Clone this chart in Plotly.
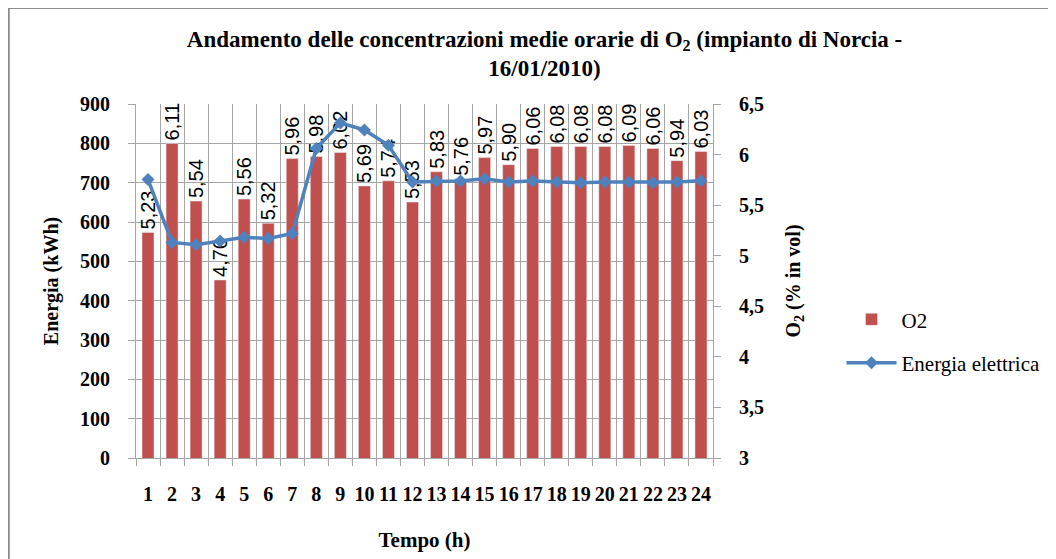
import plotly.graph_objects as go

# -------------------------
# Dati (24 ore, 16/01/2010)
# -------------------------
ore = [str(h) for h in range(1, 25)]

o2 = [5.23, 6.11, 5.54, 4.76, 5.56, 5.32, 5.96, 5.98, 6.02, 5.69, 5.74, 5.53,
      5.83, 5.76, 5.97, 5.90, 6.06, 6.08, 6.08, 6.08, 6.09, 6.06, 5.94, 6.03]

energia = [708, 548, 542, 552, 561, 558, 571, 787, 852, 834, 795, 702,
           704, 704, 710, 702, 704, 702, 700, 702, 702, 700, 702, 705]

SERIF = "Liberation Serif, Times New Roman, serif"
SANS = "Liberation Sans, Arial, sans-serif"
GRID = "#A6A6A6"

fig = go.Figure()

# barre O2 (asse destro)
fig.add_trace(go.Bar(
    x=ore, y=o2, name="O2", yaxis="y", legendgroup="o2",
    marker_color="#C0504D", width=0.5,
    texttemplate="%{y:.2f}", textposition="outside", textangle=-90,
    textfont=dict(family=SANS, size=20, color="black"),
    constraintext="none", cliponaxis=False
))

# linea energia elettrica (asse sinistro)
fig.add_trace(go.Scatter(
    x=ore, y=energia, name="Energia elettrica", yaxis="y2", legendgroup="en",
    mode="lines+markers",
    line=dict(color="#4F81BD", width=3.5),
    marker=dict(symbol="diamond", size=10, color="#4F81BD")
))

# la pagina html ha un margine di 8 px: figura 1048x551
fig.update_layout(
    width=1048, height=551,
    margin=dict(l=128, r=343, t=96, b=101, autoexpand=False),
    paper_bgcolor="white", plot_bgcolor="white",
    separators=",.",
    font=dict(family=SERIF, color="black"),
    title=dict(
        text="<b>Andamento delle concentrazioni medie orarie di O<sub>2</sub> (impianto di Norcia -<br>16/01/2010)</b>",
        x=0.512, xref="container", xanchor="center",
        y=0.93, yref="container", yanchor="middle",
        font=dict(family=SERIF, size=23)
    ),
    xaxis=dict(
        type="category", tickson="boundaries", tickangle=0, automargin=False,
        tickmode="array", tickvals=ore, range=[-0.5, 23.5],
        showgrid=True, gridcolor=GRID, gridwidth=1,
        showline=True, linecolor=GRID,
        ticks="outside", ticklen=7, tickcolor=GRID,
        ticklabelstandoff=18,
        tickfont=dict(family=SERIF, size=20, weight="bold"),
        title=dict(text="<b>Tempo (h)</b>", font=dict(family=SERIF, size=21), standoff=28)
    ),
    yaxis=dict(
        side="right", range=[3, 6.5], dtick=0.5, automargin=False,
        showgrid=False, zeroline=False,
        showline=True, linecolor=GRID,
        ticks="outside", ticklen=7, tickcolor=GRID,
        ticklabelstandoff=14,
        tickfont=dict(family=SERIF, size=20, weight="bold"),
        title=dict(text="<b>O<sub>2</sub> (% in vol)</b>", font=dict(family=SERIF, size=20), standoff=22)
    ),
    yaxis2=dict(
        overlaying="y", side="left", range=[0, 900], dtick=100, automargin=False,
        showgrid=True, gridcolor=GRID, zeroline=False,
        showline=True, linecolor=GRID,
        ticks="outside", ticklen=7, tickcolor=GRID,
        ticklabelstandoff=14,
        tickfont=dict(family=SERIF, size=20, weight="bold"),
        title=dict(text="<b>Energia (kWh)</b>", font=dict(family=SERIF, size=20), standoff=16)
    ),
    legend=dict(
        x=1.2227, y=0.33, xanchor="left", yanchor="middle",
        font=dict(family=SERIF, size=21), tracegroupgap=13, itemwidth=50,
        traceorder="grouped", bgcolor="rgba(0,0,0,0)"
    ),
    showlegend=True,
    shapes=[dict(
        type="rect", xref="paper", yref="paper",
        x0=-0.2205, x1=1.7, y0=-0.5, y1=1.271,
        line=dict(color="#8C8C8C", width=2), layer="below"
    )]
)

fig.write_html("out.html")
